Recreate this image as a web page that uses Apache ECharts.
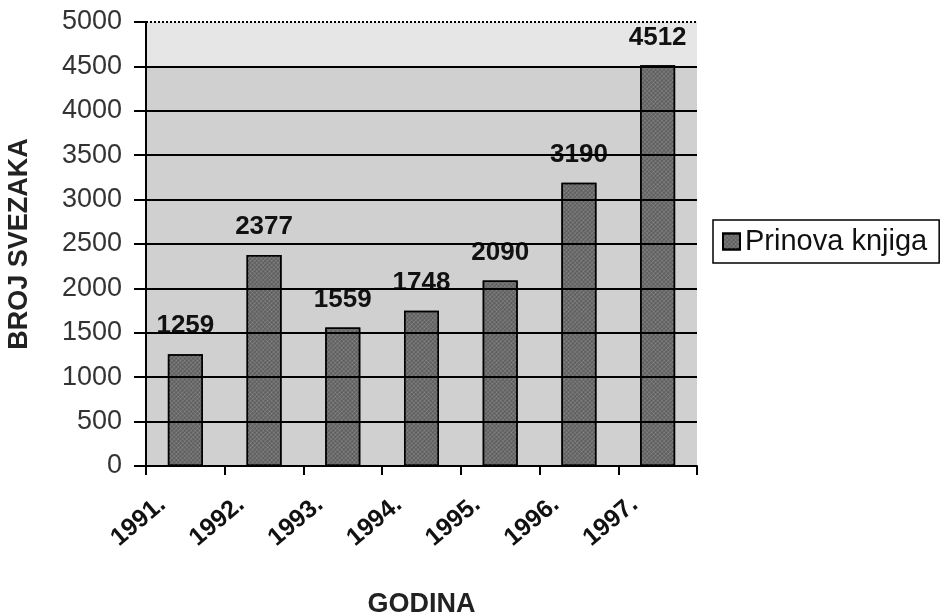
<!DOCTYPE html>
<html>
<head>
<meta charset="utf-8">
<script src="https://cdn.jsdelivr.net/npm/echarts@6/dist/echarts.min.js"></script>
<style>html,body{margin:0;padding:0;background:#fff;}#c{width:942px;height:615px;}</style>
</head>
<body>
<div id="c"></div>
<script>
var categories = ['1991.', '1992.', '1993.', '1994.', '1995.', '1996.', '1997.'];
var values = [1259, 2377, 1559, 1748, 2090, 3190, 4512];
var seriesName = 'Prinova knjiga';
var gridValues = [500, 1000, 1500, 2000, 2500, 3000, 3500, 4000, 4500];
var topValue = 5000;

var chart = echarts.init(document.getElementById('c'));
var font = 'Liberation Sans, Arial, sans-serif';
var bandColors = [];
for (var i = 0; i < 9; i++) bandColors.push('#d0d0d0');
bandColors.push('#e6e6e6');

chart.setOption({
  animation: false,
  textStyle: { fontFamily: font },
  legend: {
    data: [seriesName],
    left: 713, top: 220,
    orient: 'vertical',
    itemWidth: 17, itemHeight: 16, itemGap: 6,
    padding: [7, 12, 7, 9],
    borderColor: '#000', borderWidth: 1.5,
    icon: 'rect',
    textStyle: { fontSize: 29, color: '#111', fontFamily: font }
  },
  grid: { left: 146, right: 245, top: 22, bottom: 149, show: true, backgroundColor: 'transparent', borderWidth: 0, containLabel: false, outerBoundsMode: 'none' },
  xAxis: {
    type: 'category',
    data: categories,
    name: 'GODINA',
    nameLocation: 'middle',
    nameGap: 125,
    nameTextStyle: { fontSize: 27, fontWeight: 'bold', color: '#222' },
    axisLine: { lineStyle: { color: '#000', width: 2 } },
    axisTick: { show: true, length: 9, lineStyle: { color: '#000', width: 2 } },
    axisLabel: { rotate: 40, margin: 16, padding: [0, 30, 0, 0], fontSize: 25, fontWeight: 'bold', color: '#111' }
  },
  yAxis: {
    type: 'value',
    min: 0, max: 5000, interval: 500,
    name: 'BROJ SVEZAKA',
    nameLocation: 'middle',
    nameGap: 113,
    nameTextStyle: { fontSize: 27, fontWeight: 'bold', color: '#222' },
    axisLine: { show: true, lineStyle: { color: '#000', width: 2 } },
    axisTick: { show: true, length: 12, lineStyle: { color: '#000', width: 2 } },
    axisLabel: { margin: 24, fontSize: 27, color: '#333', formatter: function (v) { return String(v); } },
    splitLine: { show: false },
    splitArea: { show: true, areaStyle: { color: bandColors } }
  },
  series: [{
    name: seriesName,
    type: 'bar',
    data: values,
    barWidth: 35,
    itemStyle: {
      color: '#5e5e5e',
      borderColor: '#000',
      borderWidth: 1.5,
      decal: { symbol: 'circle', symbolSize: 0.6, color: 'rgba(200,200,200,0.45)', dashArrayX: [3, 0], dashArrayY: [3, 0], rotation: 0.785 }
    },
    label: { show: true, position: 'top', distance: 15, fontSize: 26, fontWeight: 'bold', color: '#111' },
    markLine: {
      silent: true,
      symbol: 'none',
      label: { show: false },
      lineStyle: { color: '#000', width: 2, type: 'solid' },
      data: gridValues.map(function (v) { return { yAxis: v }; }).concat([{ yAxis: topValue, lineStyle: { type: 'dotted', width: 2, color: '#000' } }])
    },
    z: 3
  }]
});
</script>
</body>
</html>
